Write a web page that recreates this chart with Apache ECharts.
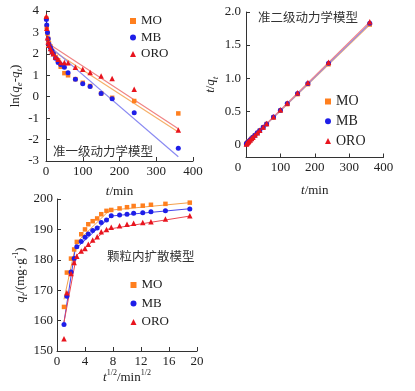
<!DOCTYPE html>
<html><head><meta charset="utf-8">
<script src="https://cdn.jsdelivr.net/npm/echarts@6/dist/echarts.min.js"></script>
<style>html,body{margin:0;padding:0;background:#fff}#c{width:415px;height:391px}</style>
</head><body><div id="c"></div>
<script>
// ---- data ----
const times = [1,2,4,6,8,12,16,20,26,33,40,50,60,80,100,120,150,180,240,360];
const sqrtTimes = [1,1.41,2,2.45,2.83,3.46,4,4.47,5.1,5.74,6.32,7.07,7.75,8.94,10,10.95,12.25,13.42,15.49,18.97];
const seriesNames = ['MO','MB','ORO'];

// pseudo-first-order: ln(qe-qt)
const lnMO  = [3.65,3.25,2.95,2.7,2.5,2.35,2.15,2.0,1.85,1.7,1.4,1.1,1.0,0.82,0.65,0.5,0.15,-0.05,-0.2,-0.78];
const lnMB  = [3.6,3.35,3.0,2.7,2.45,2.3,2.15,2.0,1.8,1.6,1.5,1.38,1.12,0.82,0.6,0.48,0.15,-0.1,-0.75,-2.4];
const lnORO = [3.75,3.2,2.75,2.55,2.4,2.25,2.1,2.0,1.85,1.75,1.6,1.6,1.58,1.38,1.28,1.13,0.97,0.85,0.35,-1.55];
const fitLnMO  = [[0,2.35],[360,-1.65]];
const fitLnMB  = [[0,2.5],[360,-2.8]];
const fitLnORO = [[0,2.55],[360,-1.5]];

// pseudo-second-order: t/qt
const tqMO  = [0.006,0.011,0.022,0.033,0.043,0.064,0.084,0.104,0.135,0.170,0.205,0.255,0.306,0.406,0.507,0.607,0.758,0.909,1.210,1.811];
const tqMB  = [0.006,0.012,0.023,0.033,0.043,0.065,0.085,0.106,0.137,0.173,0.208,0.259,0.308,0.411,0.513,0.615,0.767,0.919,1.224,1.830];
const tqORO = [0.006,0.012,0.023,0.034,0.044,0.066,0.087,0.108,0.139,0.176,0.211,0.263,0.315,0.418,0.522,0.625,0.780,0.935,1.241,1.851];
const fitTqMO  = [[0,0.004],[360,1.808]];
const fitTqMB  = [[0,0.003],[360,1.826]];
const fitTqORO = [[0,0.006],[360,1.850]];

// intraparticle diffusion: qt
const qMO  = [164.5,175.8,180.4,183.4,185.9,188.4,190,191.7,192.7,193.6,195,196.1,196.4,196.9,197.3,197.7,197.8,198.1,198.4,198.8];
const qMB  = [158.7,168,176,180.4,184.3,186,187.4,188.5,189.6,190.5,192.3,193.1,194.5,194.7,195,195.3,195.5,195.8,196.1,196.7];
const qORO = [154,169.2,175.5,179.1,181.2,182.9,183.7,185.1,186.5,187.6,189.2,190,190.7,191.2,191.7,192,192.3,192.5,193.4,194.5];
const fitQMO  = [[1,167],[2.75,185.6],[7.5,196.3],[19,198.8]];
const fitQMB  = [[1,159.5],[2.6,183.5],[7.75,194.4],[19,196.8]];
const fitQORO = [[1,159.5],[2.8,181.5],[7.1,190],[19,194.4]];

// ---- styling ----
const SERIF = '"Liberation Serif","Times New Roman",serif';
const CJK = '"Noto Sans CJK SC","Noto Sans",sans-serif';
const TXT = '#222';
const colors = {MO:'#FF7F1E', MB:'#1E1EE8', ORO:'#E8141E'};
const fitColors = {MO:'#F6B06A', MB:'#8A8AF2', ORO:'#F08484'};
const qFitColors = {MO:'#F5A04A', MB:'#4646EE', ORO:'#EC4650'};
const symbols = {MO:'rect', MB:'circle', ORO:'triangle'};
const sizes = {MO:4.5, MB:5, ORO:5.5};

const rich = {
  n:{fontFamily:SERIF,fontSize:13,color:TXT,lineHeight:18,verticalAlign:'middle'},
  i:{fontFamily:SERIF,fontSize:13,color:TXT,fontStyle:'italic',lineHeight:18,verticalAlign:'middle'},
  s:{fontFamily:SERIF,fontSize:9,color:TXT,fontStyle:'italic',lineHeight:9,verticalAlign:'bottom'},
  p:{fontFamily:SERIF,fontSize:8,color:TXT,lineHeight:8,verticalAlign:'top'}
};

function axisBase(extra){
  return Object.assign({
    axisLine:{show:true,onZero:false,lineStyle:{color:'#333',width:1}},
    axisTick:{show:true,inside:true,length:4,lineStyle:{color:'#333'}},
    splitLine:{show:false},
    nameLocation:'middle',
    nameTextStyle:{rich:rich},
    axisLabel:{color:TXT,fontFamily:SERIF,fontSize:13,margin:5}
  }, extra);
}

const xAxes = [
  axisBase({gridIndex:0,type:'value',min:0,max:400,interval:100,name:'{i|t}{n|/min}',nameGap:22,
    axisLabel:{color:TXT,fontFamily:SERIF,fontSize:13,margin:4}}),
  axisBase({gridIndex:1,type:'value',min:0,max:400,interval:100,name:'{i|t}{n|/min}',nameGap:24,
    axisLabel:{color:TXT,fontFamily:SERIF,fontSize:13,margin:4,
      formatter:v=>v===0?'{z|0}':String(v),rich:{z:{fontFamily:SERIF,fontSize:13,color:TXT,padding:[0,16,0,0]}}}}),
  axisBase({gridIndex:2,type:'value',min:0,max:20,interval:4,name:'{i|t}{p|1/2}{n|/min}{p|1/2}',nameGap:18,
    axisLabel:{color:TXT,fontFamily:SERIF,fontSize:13,margin:4}})
];
const yAxes = [
  axisBase({gridIndex:0,type:'value',min:-3,max:4,interval:1,name:'{n|ln(}{i|q}{s|e}{n|-}{i|q}{s|t}{n|)}',nameGap:20,
    axisLabel:{color:TXT,fontFamily:SERIF,fontSize:13,margin:7}}),
  axisBase({gridIndex:1,type:'value',min:-0.2,max:2.0,name:'{i|t}{n|/}{i|q}{s|t}',nameGap:26,
    axisTick:{show:true,inside:true,length:4,lineStyle:{color:'#333'},customValues:[0,0.5,1,1.5,2]},
    axisLabel:{color:TXT,fontFamily:SERIF,fontSize:13,margin:5,customValues:[0,0.5,1,1.5,2],
      formatter:v=>v===0?'0':v.toFixed(1)}}),
  axisBase({gridIndex:2,type:'value',min:150,max:200,interval:10,name:'{i|q}{s|t}{n|/(mg·g}{p|-1}{n|)}',nameGap:24,
    axisLabel:{color:TXT,fontFamily:SERIF,fontSize:13,margin:4}})
];

function zip(xs, ys){ return xs.map((x,i)=>[x, ys[i]]); }
function scat(name, gi, xs, ys){
  return {type:'scatter',name:name,xAxisIndex:gi,yAxisIndex:gi,data:zip(xs,ys),
    symbol:symbols[name],symbolSize:sizes[name],itemStyle:{color:colors[name],opacity:1},z:4,silent:true};
}
function fit(name, gi, pts, col, w){
  return {type:'line',name:name+'-fit'+gi,xAxisIndex:gi,yAxisIndex:gi,data:pts,showSymbol:false,symbol:'none',
    lineStyle:{color:col,width:w},z:2,silent:true};
}

const series = [
  fit('MO',0,fitLnMO,fitColors.MO,1.2), fit('MB',0,fitLnMB,fitColors.MB,1.2), fit('ORO',0,fitLnORO,fitColors.ORO,1.2),
  scat('MO',0,times,lnMO), scat('MB',0,times,lnMB), scat('ORO',0,times,lnORO),
  fit('MO',1,fitTqMO,fitColors.MO,1.2), fit('MB',1,fitTqMB,fitColors.MB,1.2), fit('ORO',1,fitTqORO,fitColors.ORO,1.2),
  scat('MO',1,times,tqMO), scat('MB',1,times,tqMB), scat('ORO',1,times,tqORO),
  fit('MO',2,fitQMO,qFitColors.MO,1), fit('MB',2,fitQMB,qFitColors.MB,1), fit('ORO',2,fitQORO,qFitColors.ORO,1),
  scat('MO',2,sqrtTimes,qMO), scat('MB',2,sqrtTimes,qMB), scat('ORO',2,sqrtTimes,qORO)
];

function legendAt(left, top, gap, fs){
  return {left:left,top:top,orient:'vertical',padding:0,itemWidth:6,itemHeight:6,itemGap:gap,itemTextGap:5,
    selectedMode:false,
    data:seriesNames.map(n=>({name:n,icon:symbols[n]})),
    textStyle:{fontFamily:SERIF,fontSize:fs,color:TXT,lineHeight:fs}};
}

const option = {
  animation:false,
  backgroundColor:'#fff',
  grid:[
    {left:46,top:11,width:147,height:150},
    {left:246,top:12,width:137.5,height:145.5},
    {left:57,top:199,width:140,height:152}
  ],
  xAxis:xAxes,
  yAxis:yAxes,
  legend:[legendAt(130,14.5,3.5,13), legendAt(325,94.5,5.7,14), legendAt(130.5,278.5,5.5,13)],
  title:[
    {text:'准一级动力学模型',left:53,top:145,padding:0,textStyle:{fontFamily:CJK,fontSize:12.5,fontWeight:'normal',color:'#333'}},
    {text:'准二级动力学模型',left:258,top:11,padding:0,textStyle:{fontFamily:CJK,fontSize:12.5,fontWeight:'normal',color:'#333'}},
    {text:'颗粒内扩散模型',left:107,top:250,padding:0,textStyle:{fontFamily:CJK,fontSize:12.5,fontWeight:'normal',color:'#333'}}
  ],
  series:series
};
const chart = echarts.init(document.getElementById('c'), null, {renderer:'canvas'});
chart.setOption(option);
</script>
</body></html>
